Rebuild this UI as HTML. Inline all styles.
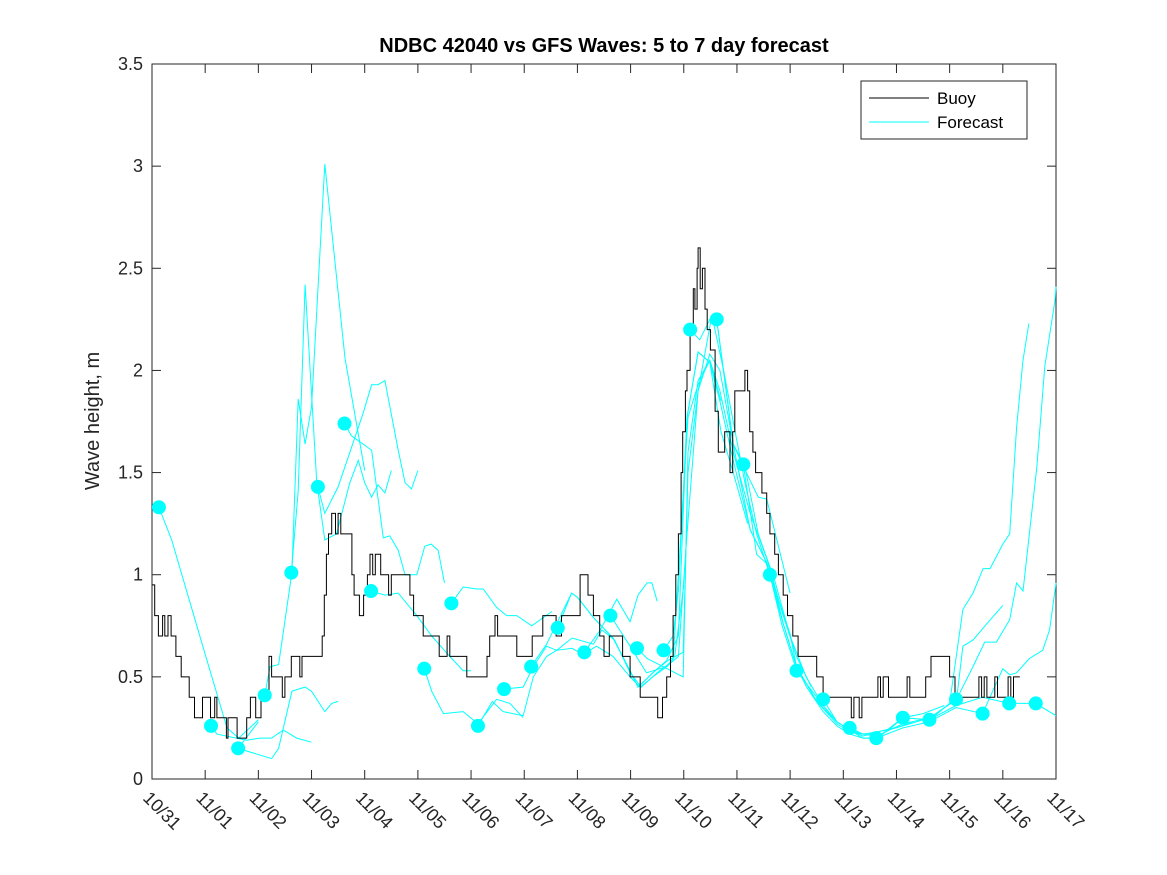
<!DOCTYPE html>
<html><head><meta charset="utf-8"><style>
html,body{margin:0;padding:0;background:#fff;}
svg{display:block;font-family:"Liberation Sans",sans-serif;}
</style></head><body>
<svg id="chart" width="1167" height="875" viewBox="0 0 1167 875" xmlns="http://www.w3.org/2000/svg">
<rect x="0" y="0" width="1167" height="875" fill="#fff"/>
<text x="604" y="52" text-anchor="middle" font-size="20" font-weight="bold" fill="#000">NDBC 42040 vs GFS Waves: 5 to 7 day forecast</text>
<text transform="translate(99,421) rotate(-90)" text-anchor="middle" font-size="20" fill="#262626">Wave height, m</text>
<g id="axes"></g>
<g id="series"></g>
<g id="legend">
<rect x="861" y="81" width="166" height="58" fill="#fff" stroke="#262626" stroke-width="1"/>
<line x1="869" y1="98" x2="929" y2="98" stroke="#000" stroke-width="1"/>
<text x="937" y="104" font-size="17" fill="#000">Buoy</text>
<line x1="869" y1="122" x2="929" y2="122" stroke="#00ffff" stroke-width="1"/>
<text x="937" y="128" font-size="17" fill="#000">Forecast</text>
</g>
</svg>
<script>
const xTickLabels = ["10/31","11/01","11/02","11/03","11/04","11/05","11/06","11/07","11/08","11/09","11/10","11/11","11/12","11/13","11/14","11/15","11/16","11/17"];
const yTicks = [0,0.5,1,1.5,2,2.5,3,3.5];
const yTickLabels = ["0","0.5","1","1.5","2","2.5","3","3.5"];
// buoy step changes: day offset from 10/31, height
const buoyT = [0,0.05,0.12,0.2,0.24,0.3,0.36,0.45,0.55,0.7,0.8,0.95,1.0,1.1,1.18,1.22,1.3,1.4,1.43,1.6,1.65,1.78,1.85,1.95,2.05,2.2,2.25,2.45,2.5,2.62,2.7,2.78,2.82,3.2,3.24,3.28,3.32,3.38,3.45,3.5,3.55,3.62,3.76,3.8,3.9,3.98,4.05,4.1,4.15,4.2,4.3,4.45,4.5,4.6,4.85,4.92,5.0,5.1,5.26,5.4,5.47,5.55,5.6,5.92,6.3,6.35,6.45,6.5,6.7,6.86,7.1,7.15,7.3,7.35,7.6,7.7,7.95,8.05,8.2,8.3,8.42,8.5,8.6,8.85,8.99,9.18,9.4,9.51,9.6,9.68,9.75,9.8,9.85,9.9,9.95,9.98,10.03,10.06,10.12,10.18,10.21,10.25,10.27,10.31,10.35,10.4,10.44,10.5,10.59,10.65,10.77,10.87,10.92,10.96,11.05,11.15,11.2,11.24,11.3,11.35,11.47,11.56,11.62,11.71,11.78,11.87,11.95,12.05,12.15,12.28,12.5,12.62,13.15,13.2,13.3,13.35,13.4,13.65,13.7,13.75,13.85,13.9,14.2,14.25,14.3,14.55,14.65,14.76,15.0,15.1,15.2,15.55,15.6,15.65,15.7,15.85,15.9,16.1,16.15,16.2,16.32];
const buoyH = [0.95,0.8,0.7,0.8,0.7,0.8,0.7,0.6,0.5,0.4,0.3,0.4,0.4,0.3,0.4,0.3,0.3,0.2,0.3,0.2,0.2,0.3,0.4,0.3,0.4,0.6,0.5,0.4,0.5,0.6,0.6,0.5,0.6,0.7,0.9,1.1,1.2,1.3,1.2,1.3,1.2,1.2,1.0,0.9,0.8,0.9,1.0,1.1,1.0,1.1,1.0,0.9,1.0,1.0,0.9,0.8,0.8,0.7,0.7,0.6,0.6,0.7,0.6,0.5,0.6,0.7,0.8,0.7,0.7,0.6,0.6,0.7,0.7,0.8,0.7,0.8,0.8,1.0,0.9,0.8,0.7,0.6,0.7,0.6,0.5,0.4,0.4,0.3,0.4,0.5,0.6,0.8,1.0,1.2,1.5,1.7,1.9,2.0,2.2,2.4,2.3,2.5,2.6,2.4,2.5,2.3,2.2,2.1,1.8,1.6,1.7,1.5,1.7,1.9,1.9,2.0,1.9,1.7,1.6,1.5,1.4,1.3,1.2,1.1,1.0,0.9,0.8,0.7,0.6,0.6,0.5,0.4,0.3,0.4,0.3,0.4,0.4,0.5,0.4,0.5,0.4,0.4,0.5,0.4,0.4,0.5,0.6,0.6,0.5,0.4,0.4,0.5,0.4,0.5,0.4,0.5,0.4,0.5,0.4,0.5,0.5];
// forecast analysis dots
const dotT = [0.13,1.11,1.62,2.12,2.62,3.12,3.62,4.12,5.12,5.63,6.13,6.62,7.13,7.63,8.13,8.62,9.12,9.62,10.12,10.62,11.12,11.62,12.12,12.62,13.12,13.62,14.12,14.62,15.12,15.62,16.12,16.62];
const dotH = [1.33,0.26,0.15,0.41,1.01,1.43,1.74,0.92,0.54,0.86,0.26,0.44,0.55,0.74,0.62,0.80,0.64,0.63,2.20,2.25,1.54,1.00,0.53,0.39,0.25,0.20,0.30,0.29,0.39,0.32,0.37,0.37];
// forecast segments (days, heights)
const fcT = [
 [0.13,0.37,1.0,1.41,1.63,2.0],
 [1.11,1.22,1.78,2.03,2.25,2.47,2.72,3.0],
 [1.62,2.25,2.38,2.63,2.88,3.0,3.25,3.38,3.5],
 [1.62,2.0],
 [2.12,2.22,2.38,2.63,2.75,2.88,3.0,3.25,3.63,4.0],
 [2.62,2.75,2.88,3.1,3.25,3.47,3.72,3.88,4.0,4.13,4.25,4.38,4.5],
 [3.12,3.25,3.5,3.97,4.13,4.25,4.38,4.63,4.76,4.88,5.0],
 [3.62,3.75,4.13,4.35,4.47,4.63,4.76,4.98,5.13,5.25,5.38,5.5],
 [4.12,4.38,4.63,4.98,5.26,5.6,5.85,6.0],
 [5.12,5.26,5.48,5.85,6.13,6.48,6.73,6.98],
 [5.63,5.85,6.11,6.23,6.48,6.67,6.86,7.14,7.52],
 [6.13,6.4,6.6,6.98,7.17,7.42,7.61,7.9,8.1,8.36,8.67,8.99,9.18,9.42,9.68,9.83,10.0],
 [6.62,6.98,7.17,7.42,7.61,7.9,8.3,8.46,8.7,8.99,9.2,9.5,9.8,10.08,10.27,10.49,10.7],
 [7.13,7.42,7.89,8.0,8.3,8.67,8.99,9.14,9.42,9.68,9.9,10.06,10.27,10.49,10.7,10.93,11.2],
 [7.63,7.89,8.0,8.3,8.67,8.99,9.14,9.42,9.7,9.99,10.08,10.27,10.49,10.68,10.93,11.25,11.56,11.87],
 [8.13,8.43,8.74,8.99,9.14,9.31,9.4,9.5],
 [8.62,8.99,9.3,9.68,9.9,10.06,10.27,10.53,10.75,10.93,11.15,11.37,11.62,11.85,12.1],
 [9.12,9.31,9.99,10.08,10.27,10.49,10.68,10.93,11.25,11.56,11.87,12.12,12.4],
 [9.62,9.8,9.9,10.06,10.27,10.49,10.68,10.93,11.25,11.56,11.87,12.12,12.5,12.88],
 [10.12,10.3,10.53,10.62,10.93,11.15,11.4,11.7,12.0,12.3,12.62,12.88,13.12,13.37],
 [10.62,10.93,11.12,11.4,11.56,12.0],
 [11.12,11.37,11.62,11.87,12.12,12.5,12.88,13.12,13.37,13.63,14.0,14.3],
 [11.62,12.0,12.12,12.31,12.62,12.88,13.12,13.37,13.63,13.9,14.12,14.5,14.9],
 [12.12,12.62,12.88,13.12,13.37,13.63,14.12,14.63,15.0,15.25,15.44,15.63,15.76,16.0,16.13,16.26,16.38,16.49],
 [12.62,12.88,13.12,13.37,13.63,14.12,14.63,15.13,15.25,15.44,15.7,16.0],
 [13.12,13.37,13.63,14.12,14.63,15.13,15.44,15.66,15.88,16.13,16.26,16.38,16.64,16.79,16.98,17.0],
 [13.62,14.12,14.62,15.12,15.62,16.0,16.13,16.26,16.5,16.75,16.88,17.0],
 [14.62,15.12,15.62,16.12,16.62,17.0]
];
const fcH = [
 [1.33,1.17,0.61,0.25,0.2,0.29],
 [0.26,0.22,0.19,0.2,0.2,0.24,0.2,0.18],
 [0.15,0.1,0.15,0.43,0.45,0.43,0.33,0.37,0.38],
 [0.15,0.28],
 [0.41,0.55,0.56,1.01,1.86,1.64,1.82,3.01,2.06,1.51],
 [1.01,1.41,2.42,1.45,1.17,1.2,1.45,1.56,1.45,1.38,1.44,1.4,1.51],
 [1.43,1.3,1.43,1.79,1.93,1.93,1.95,1.61,1.45,1.42,1.51],
 [1.74,1.68,1.61,1.18,1.19,1.12,1.0,1.0,1.14,1.15,1.12,0.96],
 [0.92,0.9,0.91,0.8,0.7,0.6,0.53,0.53],
 [0.54,0.43,0.32,0.33,0.27,0.39,0.37,0.3],
 [0.86,0.94,0.93,0.93,0.84,0.8,0.8,0.75,0.82],
 [0.26,0.38,0.33,0.31,0.5,0.6,0.63,0.64,0.61,0.65,0.6,0.5,0.45,0.5,0.55,0.6,0.95],
 [0.44,0.45,0.55,0.65,0.63,0.69,0.66,0.73,0.68,0.52,0.45,0.52,0.58,1.77,1.93,2.05,1.85],
 [0.55,0.66,0.91,0.89,0.79,0.69,0.53,0.45,0.52,0.58,0.7,1.77,2.09,2.04,1.7,1.5,1.25],
 [0.74,0.91,0.89,0.79,0.69,0.53,0.45,0.52,0.58,0.62,1.5,1.9,2.08,2.0,1.64,1.22,1.06,0.76],
 [0.62,0.73,0.88,0.77,0.9,0.96,0.96,0.87],
 [0.8,0.65,0.52,0.55,0.6,1.2,1.9,2.27,2.0,1.75,1.45,1.2,1.0,0.75,0.55],
 [0.64,0.59,0.5,1.6,1.95,2.05,1.9,1.6,1.3,1.08,0.8,0.6,0.45],
 [0.63,0.7,0.92,1.77,2.09,2.04,1.85,1.56,1.22,1.06,0.76,0.55,0.38,0.28],
 [2.2,2.15,2.27,2.25,1.64,1.53,1.2,0.98,0.7,0.5,0.36,0.28,0.24,0.22],
 [2.25,1.64,1.53,1.38,1.37,0.91],
 [1.54,1.1,1.04,0.76,0.55,0.38,0.27,0.23,0.22,0.23,0.25,0.28],
 [1.0,0.71,0.55,0.45,0.33,0.26,0.22,0.2,0.2,0.25,0.3,0.32,0.36],
 [0.53,0.36,0.28,0.24,0.2,0.2,0.3,0.29,0.37,0.83,0.91,1.03,1.03,1.15,1.2,1.72,2.05,2.23],
 [0.39,0.28,0.24,0.21,0.23,0.26,0.3,0.39,0.65,0.68,0.76,0.85],
 [0.25,0.22,0.21,0.27,0.3,0.39,0.55,0.67,0.67,0.78,0.96,0.92,1.53,2.02,2.34,2.41],
 [0.2,0.25,0.28,0.35,0.32,0.54,0.51,0.52,0.59,0.63,0.73,0.96],
 [0.29,0.36,0.4,0.37,0.37,0.31]
];
const X0=152, X1=1056, Y0=779, Y1=64, DAYS=17, YMAX=3.5;
function xs(d){return X0+(X1-X0)*d/DAYS;}
function ys(v){return Y0-(Y0-Y1)*v/YMAX;}
const NS="http://www.w3.org/2000/svg";
function mk(tag, attrs, parent){const e=document.createElementNS(NS,tag);for(const k in attrs)e.setAttribute(k,attrs[k]);parent.appendChild(e);return e;}
const axes=document.getElementById('axes');
const series=document.getElementById('series');
const frame=mk('rect',{x:X0,y:Y1,width:X1-X0,height:Y0-Y1,fill:'none',stroke:'#262626','stroke-width':1},axes);


yTicks.forEach((v,i)=>{
  const y=ys(v);
  const t1=mk('line',{x1:X0,y1:y,x2:X0+9,y2:y,stroke:'#262626'},axes);
  
  
  const t2=mk('line',{x1:X1,y1:y,x2:X1-9,y2:y,stroke:'#262626'},axes);
  
  
  const lb=mk('text',{x:X0-9,y:y+6,'text-anchor':'end','font-size':18,fill:'#262626'},axes);
  lb.textContent=yTickLabels[i];
  
  
});
xTickLabels.forEach((s,i)=>{
  const x=xs(i);
  const t1=mk('line',{x1:x,y1:Y0,x2:x,y2:Y0-9,stroke:'#262626'},axes);
  
  
  const t2=mk('line',{x1:x,y1:Y1,x2:x,y2:Y1+9,stroke:'#262626'},axes);
  
  
  const lb=mk('text',{transform:`translate(${x-10},${Y0+20}) rotate(45)`,'font-size':18,fill:'#262626'},axes);
  lb.textContent=s;
  
  
});
// forecast lines
fcT.forEach((ts,k)=>{
  const pts=ts.map((t,j)=>xs(t).toFixed(1)+','+ys(fcH[k][j]).toFixed(1)).join(' ');
  const pl=mk('polyline',{points:pts,fill:'none',stroke:'#00ffff','stroke-width':1},series);
  
  
});
// buoy step line
let bp=[];
for(let i=0;i<buoyT.length;i++){
  if(i>0) bp.push(xs(buoyT[i]).toFixed(1)+','+ys(buoyH[i-1]).toFixed(1));
  bp.push(xs(buoyT[i]).toFixed(1)+','+ys(buoyH[i]).toFixed(1));
}
const bl=mk('polyline',{points:bp.join(' '),fill:'none',stroke:'#000','stroke-width':1},series);


// dots
dotT.forEach((t,i)=>{
  const c=mk('circle',{cx:xs(t),cy:ys(dotH[i]),r:6.5,fill:'#00ffff',stroke:'#00ffff'},series);
  
  
});
</script>
</body></html>
